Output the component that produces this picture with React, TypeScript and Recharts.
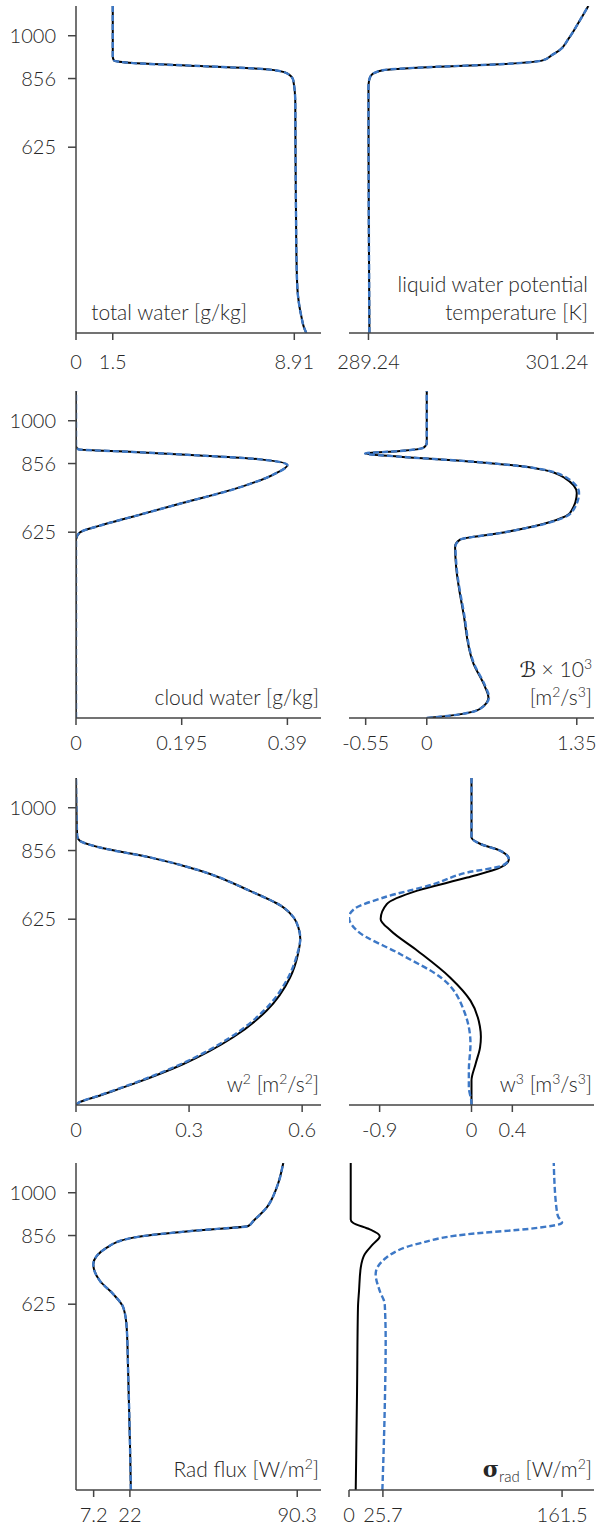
import React from 'react';
import { LineChart, Line, XAxis, YAxis } from 'recharts';

// height levels shown on the left axes
const HEIGHT_TICKS = [625, 856, 1000];

// total water [g/kg]
const qtZ = [0, 20, 55, 100, 145, 250, 400, 600, 780, 850, 873, 887, 898, 908, 917, 930, 1000, 1100];
const qtVal = [9.4, 9.3, 9.2, 9.1, 9.04, 9.0, 8.98, 8.96, 8.95, 8.87, 8.62, 7.8, 5.07, 2.33, 1.55, 1.5, 1.5, 1.5];

// liquid water potential temperature [K]
const thZ = [0, 400, 800, 828, 850, 867, 884, 895, 904, 917, 935, 951, 990, 1029, 1065, 1100];
const thVal = [289.3, 289.26, 289.24, 289.24, 289.28, 289.41, 290.15, 293.33, 297.57, 300.33, 300.92, 301.4, 301.98, 302.45, 302.85, 303.24];

// cloud water [g/kg]
const qlZ = [0, 600, 624, 647, 678, 724, 769, 819, 851, 870, 883, 895, 904, 915, 1100];
const qlVal = [0, 0, 0.007, 0.044, 0.106, 0.198, 0.29, 0.364, 0.39, 0.34, 0.229, 0.106, 0.004, 0, 0];

// buoyancy flux x 10^3
const bZ = [0, 8, 31, 70, 104, 183, 352, 509, 577, 600, 622, 656, 690, 757, 808, 842, 864, 879, 890, 898, 909, 926, 1100];
const bLes = [0, 0.21, 0.48, 0.555, 0.525, 0.42, 0.33, 0.264, 0.255, 0.3, 0.66, 1.08, 1.29, 1.35, 1.24, 0.95, 0.353, -0.24, -0.555, -0.24, -0.03, 0, 0];
const bModel = [0, 0.21, 0.48, 0.56, 0.53, 0.425, 0.335, 0.268, 0.258, 0.3, 0.66, 1.09, 1.3, 1.37, 1.26, 0.95, 0.353, -0.24, -0.555, -0.24, -0.03, 0, 0];

// w^2
const w2Z = [0, 6, 32, 71, 138, 228, 318, 429, 508, 560, 597, 630, 665, 721, 788, 833, 866, 889, 906, 1100];
const w2Les = [0, 0.005, 0.064, 0.152, 0.285, 0.417, 0.506, 0.568, 0.589, 0.595, 0.59, 0.578, 0.55, 0.46, 0.33, 0.196, 0.064, 0.01, 0.003, 0];
const w2Model = [0, 0.005, 0.062, 0.148, 0.279, 0.41, 0.499, 0.563, 0.587, 0.595, 0.59, 0.578, 0.55, 0.46, 0.33, 0.196, 0.064, 0.01, 0.003, 0];

// w^3
const w3LesZ = [0, 82, 138, 194, 230, 265, 351, 429, 519, 586, 626, 676, 721, 765, 799, 827, 855, 878, 900, 1100];
const w3Les = [0, 0, 0.04, 0.084, 0.092, 0.082, -0.01, -0.21, -0.53, -0.79, -0.89, -0.83, -0.53, -0.042, 0.284, 0.366, 0.284, 0.088, 0, 0];
const w3ModelZ = [0, 5, 60, 116, 206, 318, 429, 508, 586, 631, 659, 698, 743, 782, 805, 827, 855, 878, 900, 1100];
const w3Model = [0, 0, -0.026, -0.026, -0.01, -0.075, -0.3, -0.7, -1.12, -1.2, -1.15, -0.86, -0.37, -0.042, 0.3, 0.366, 0.284, 0.088, 0, 0];

// radiative flux [W/m2]
const rfZ = [0, 166, 390, 546, 614, 659, 703, 759, 815, 849, 874, 888, 905, 950, 1017, 1100];
const rfVal = [22.4, 22.0, 21.3, 20.7, 19.3, 15.2, 9.8, 7.06, 12.5, 23.4, 50.6, 70.3, 72.4, 77.8, 81.9, 84.6];

// sigma_rad [W/m2]
const sgLesZ = [0, 334, 614, 670, 748, 793, 827, 854, 877, 899, 910, 1100];
const sgLes = [5.1, 6.1, 6.8, 7.6, 8.9, 11.9, 18.2, 23.3, 15.7, 3.0, 1.3, 1.3];
const sgModelZ = [0, 278, 502, 625, 670, 726, 782, 827, 860, 880, 899, 920, 950, 1100];
const sgModel = [25.3, 27.1, 27.8, 27.1, 23.3, 20.2, 28.4, 51.1, 89, 139.5, 161.5, 158.5, 157.2, 155.2];

const FONT = 'Lato, "Open Sans", sans-serif';
const INK = '#262626';
const AXIS = '#444';
const BLUE = '#3d78c6';

const PLOT_H = 327;
const MT = 5;
const ROW_BOTTOMS = [333, 717.5, 1104.5, 1489.5];
const ROW_AXIS_H = [50, 50, 50, 38];
const ROW_TICK_GAP = [15, 11, 11, 11];

type Row = { z: number; v: number };
const rows = (z: number[], v: number[]): Row[] => z.map((h, i) => ({ z: h, v: v[i] }));

// parts: [text, kind] where kind is 'n' normal, 'sup' or 'sub'
type Part = [string, 'n' | 'sup' | 'sub'];
const rich = (parts: Part[]) => {
  let shift = 0;
  return parts.map(([t, kind], i) => {
    const target = kind === 'sup' ? -8 : kind === 'sub' ? 5 : 0;
    const dy = target - shift;
    shift = target;
    return (
      <tspan key={i} dy={dy} fontSize={kind === 'n' ? undefined : kind === 'sup' ? 14 : 15}>
        {t}
      </tspan>
    );
  });
};

type LabelFn = (right: number, base: number) => React.ReactNode;

const txt = { fontFamily: FONT, fontSize: 21, fill: INK, fontWeight: 300, textAnchor: 'end' as const };

type PanelProps = {
  side: 'left' | 'right';
  row: number;
  domain: [number, number];
  ticks: number[];
  les: Row[];
  model: Row[];
  label: LabelFn;
  labelInset?: number;
};

function Panel({ side, row, domain, ticks, les, model, label, labelInset = 2 }: PanelProps) {
  const isLeft = side === 'left';
  const top = ROW_BOTTOMS[row] - PLOT_H - MT;
  const axisH = ROW_AXIS_H[row];
  const width = isLeft ? 330 : 278;
  const margin = isLeft
    ? { top: MT, right: 9, bottom: 0, left: 16 }
    : { top: MT, right: 4, bottom: 0, left: 29 };
  const tickStyle = { fontFamily: FONT, fontSize: 20, fill: INK, fontWeight: 300 };
  return (
    <div style={{ position: 'absolute', left: isLeft ? 0 : 320, top }}>
      <LineChart width={width} height={MT + PLOT_H + axisH} layout="vertical" margin={margin}>
        <XAxis
          type="number"
          dataKey="v"
          domain={domain}
          ticks={ticks}
          interval={0}
          allowDataOverflow
          height={axisH}
          tickSize={7}
          tickMargin={ROW_TICK_GAP[row]}
          tick={tickStyle}
          axisLine={{ stroke: AXIS, strokeWidth: 1.5 }}
          tickLine={{ stroke: AXIS, strokeWidth: 1.5 }}
          label={(p: any) => {
            const vb = p.viewBox || {};
            return <g>{label(vb.x + vb.width - labelInset, vb.y - 13)}</g>;
          }}
        />
        <YAxis
          type="number"
          dataKey="z"
          domain={[0, 1100]}
          reversed
          allowDataOverflow
          hide={!isLeft}
          width={isLeft ? 60 : 0}
          ticks={HEIGHT_TICKS}
          interval={0}
          tickSize={8}
          tickMargin={12}
          tick={tickStyle}
          axisLine={{ stroke: AXIS, strokeWidth: 1.5 }}
          tickLine={{ stroke: AXIS, strokeWidth: 1.5 }}
        />
        <Line data={les} dataKey="v" type="monotone" stroke="#000" strokeWidth={2} dot={false} isAnimationActive={false} />
        <Line data={model} dataKey="v" type="monotone" stroke={BLUE} strokeWidth={2.4} strokeDasharray="6 3" dot={false} isAnimationActive={false} />
      </LineChart>
    </div>
  );
}

export default function App() {
  const qt = rows(qtZ, qtVal);
  const th = rows(thZ, thVal);
  const ql = rows(qlZ, qlVal);
  const w2l = rows(w2Z, w2Les);
  const w2m = rows(w2Z, w2Model);
  const rf = rows(rfZ, rfVal);
  return (
    <div style={{ position: 'absolute', left: 0, top: 0, width: 598, height: 1528, background: '#fff', overflow: 'hidden' }}>
      <Panel side="left" row={0} domain={[0, 10]} ticks={[0, 1.5, 8.91]} les={qt} model={qt} labelInset={74}
        label={(r, b) => <text {...txt} x={r} y={b}>total water [g/kg]</text>} />
      <Panel side="right" row={0} domain={[288, 303.6]} ticks={[289.24, 301.24]} les={th} model={th} labelInset={6}
        label={(r, b) => (
          <>
            <text {...txt} x={r} y={b - 28.5}>liquid water potential</text>
            <text {...txt} x={r} y={b}>temperature [K]</text>
          </>
        )} />
      <Panel side="left" row={1} domain={[0, 0.452]} ticks={[0, 0.195, 0.39]} les={ql} model={ql}
        label={(r, b) => <text {...txt} x={r} y={b}>cloud water [g/kg]</text>} />
      <Panel side="right" row={1} domain={[-0.7, 1.505]} ticks={[-0.55, 0, 1.35]} les={rows(bZ, bLes)} model={rows(bZ, bModel)}
        label={(r, b) => (
          <>
            <text {...txt} x={r} y={b - 28.5}>
              <tspan fontFamily='"DejaVu Sans", sans-serif' fontWeight={400}>{'\u212C'}</tspan>
              {rich([[' \u00D7 10', 'n'], ['3', 'sup']])}
            </text>
            <text {...txt} x={r} y={b}>{rich([['[m', 'n'], ['2', 'sup'], ['/s', 'n'], ['3', 'sup'], [']', 'n']])}</text>
          </>
        )} />
      <Panel side="left" row={2} domain={[0, 0.65]} ticks={[0, 0.3, 0.6]} les={w2l} model={w2m}
        label={(r, b) => (
          <text {...txt} x={r} y={b}>{rich([['w', 'n'], ['2', 'sup'], [' [m', 'n'], ['2', 'sup'], ['/s', 'n'], ['2', 'sup'], [']', 'n']])}</text>
        )} />
      <Panel side="right" row={2} domain={[-1.2, 1.2]} ticks={[-0.9, 0, 0.4]} les={rows(w3LesZ, w3Les)} model={rows(w3ModelZ, w3Model)}
        label={(r, b) => (
          <text {...txt} x={r} y={b}>{rich([['w', 'n'], ['3', 'sup'], [' [m', 'n'], ['3', 'sup'], ['/s', 'n'], ['3', 'sup'], [']', 'n']])}</text>
        )} />
      <Panel side="left" row={3} domain={[0, 100]} ticks={[7.2, 22, 90.3]} les={rf} model={rf}
        label={(r, b) => <text {...txt} x={r} y={b}>{rich([['Rad flux [W/m', 'n'], ['2', 'sup'], [']', 'n']])}</text>} />
      <Panel side="right" row={3} domain={[0, 185.7]} ticks={[0, 25.7, 161.5]} les={rows(sgLesZ, sgLes)} model={rows(sgModelZ, sgModel)}
        label={(r, b) => (
          <text {...txt} x={r} y={b}>
            <tspan fontFamily='"DejaVu Serif", serif' fontWeight={700} fontSize={22}>{'\u03C3'}</tspan>
            {rich([['rad', 'sub'], [' [W/m', 'n'], ['2', 'sup'], [']', 'n']])}
          </text>
        )} />
    </div>
  );
}
